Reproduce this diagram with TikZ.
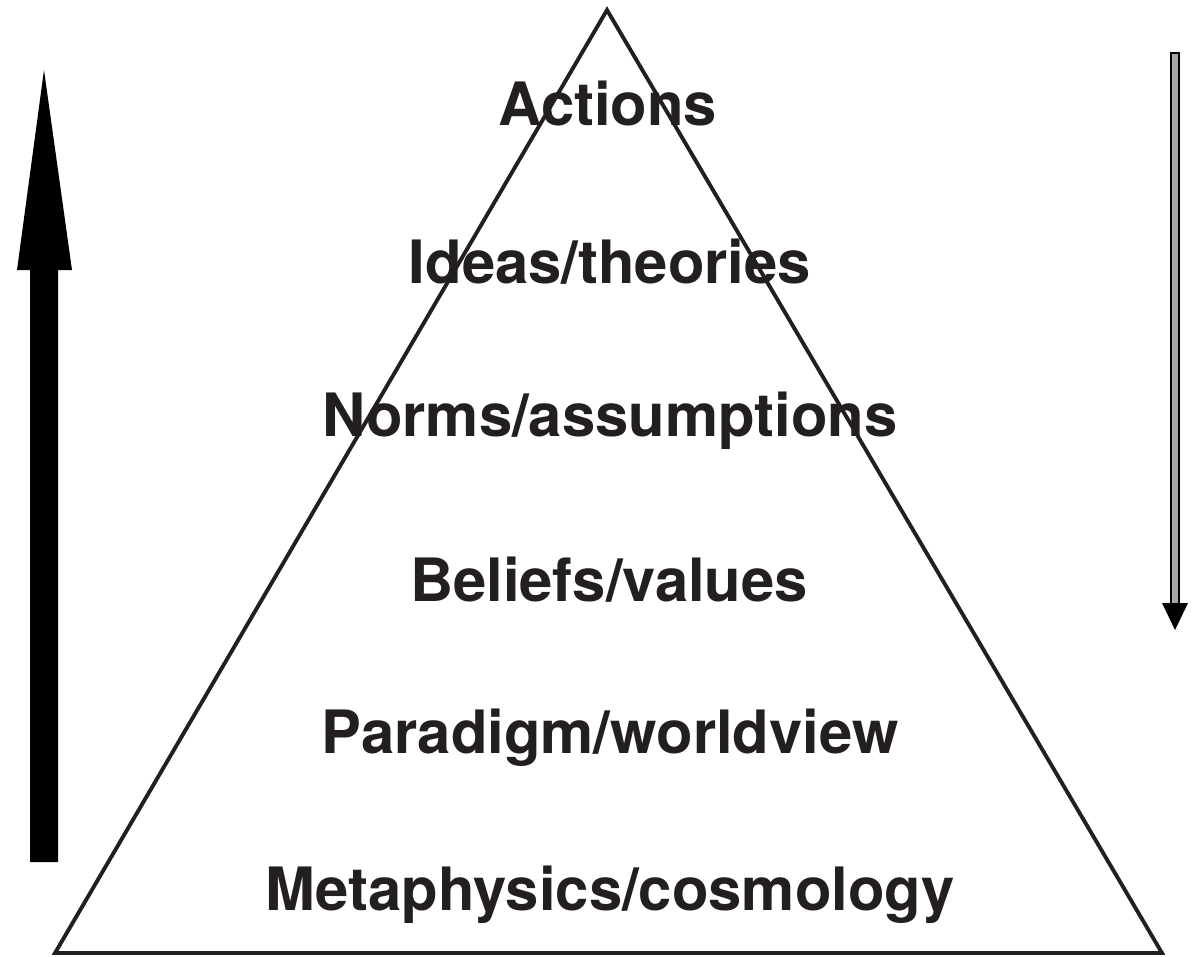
\documentclass[tikz,border=0pt]{standalone}
\usepackage{fontspec}
\setmainfont{TeX Gyre Heros}
\usepackage{tikz}
\definecolor{inkgray}{HTML}{231F20}
\tikzset{
    level/.style={font=\bfseries\fontsize{17}{19}\selectfont,text=inkgray,inner sep=0pt},
    every label/.append style={black}
}

\begin{document}
\begin{tikzpicture}[x=0.01cm,y=-0.01cm]
                            \useasboundingbox (0,0) rectangle (1195,956);
                            \draw[line width=1.1pt,inkgray,line join=miter] (607,10) -- (55,953) -- (1162,953) -- cycle;
                            \fill[black] (30,862) -- (30,270) -- (17,270) -- (44,70) -- (72,270) -- (58,270) -- (58,862) -- cycle;
                            \draw[black,fill=gray!70,line width=0.6pt] (1171,53) rectangle (1179,605);
                            \fill[black] (1162,603) -- (1188,603) -- (1175,630) -- cycle;
                            \node[level] (actions) at (608,103) {Actions};
                            \node[level] (ideas) at (610,262) {Ideas/theories};
                            \node[level] (norms) at (610,421) {Norms/assumptions};
                            \node[level] (beliefs) at (609,580) {Beliefs/values};
                            \node[level] (paradigm) at (610,738) {Paradigm/worldview};
                            \node[level] (metaphysics) at (610,895) {Metaphysics/cosmology};
                        \end{tikzpicture}
\end{document}
